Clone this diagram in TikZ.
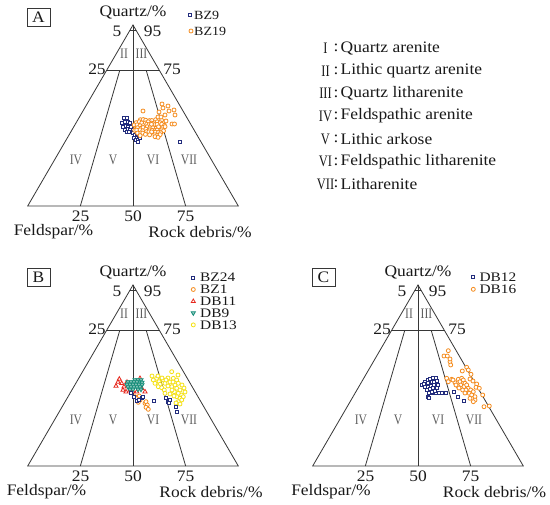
\documentclass[tikz,border=0pt]{standalone}
\usepackage{fontspec}
\setmainfont{Liberation Serif}
\definecolor{navyc}{RGB}{35,45,125}
\definecolor{orangec}{RGB}{245,140,30}
\definecolor{redc}{RGB}{230,40,30}
\definecolor{tealc}{RGB}{20,140,120}
\definecolor{yellowc}{RGB}{245,225,20}
\definecolor{framec}{RGB}{55,55,55}
\definecolor{regc}{RGB}{95,95,95}
\definecolor{txtc}{RGB}{25,25,25}
\newcommand\ternframe[4]{%
  \coordinate (#1Q) at (133,25);
  \coordinate (#1F) at (27.7,206);
  \coordinate (#1R) at (238.3,206);
  \coordinate (#1L75) at (106.7,70.25);
  \coordinate (#1R75) at (159.3,70.25);
  \coordinate (#1L95) at (129.8,30.5);
  \coordinate (#1R95) at (136.2,30.5);
  \coordinate (#1B25) at (80.35,206);
  \coordinate (#1B50) at (133,206);
  \coordinate (#1B75) at (185.65,206);
  \coordinate (#1M25) at (119.8,70.25);
  \coordinate (#1M75) at (146.2,70.25);
  \draw[frame] (#1Q) -- (#1F) -- (#1R) -- cycle;
  \draw[frame] (#1L75) -- (#1R75);
  \draw[frame] (#1L95) -- (#1R95);
  \draw[frame] (#1Q) -- (#1B50);
  \draw[frame] (#1B25) -- (#1M25);
  \draw[frame] (#1B75) -- (#1M75);
  \node[lab] (#1qt) at (133,12.5) {Quartz/\%};
  \node[lab] (#1n5) at (117,31) {5};
  \node[lab] (#1n95) at (152.5,31) {95};
  \node[lab] (#1n25t) at (97,69) {25};
  \node[lab] (#1n75t) at (172,69) {75};
  \node[lab] (#1n25) at (80.5,216) {25};
  \node[lab] (#1n50) at (133,216) {50};
  \node[lab] (#1n75) at (185.5,216) {75};
  \node[lab] (#1fs) at (#3,232) {Feldspar/\%};
  \node[lab] (#1rd) at (#4,232) {Rock debris/\%};
  \draw[boxline] (27,8) rectangle (50,26);
  \node[lab] (#1let) at (38.5,17.5) {#2};
  \node[reg] (#1r2) at (124,54) {II};
  \node[reg] (#1r3) at (141.5,54) {III};
  \node[reg] (#1r4) at (76,160) {IV};
  \node[reg] (#1r5) at (113,160) {V};
  \node[reg] (#1r6) at (153,160) {VI};
  \node[reg] (#1r7) at (189,160) {VII};
}
\newcommand\msq[2]{\draw[mk,draw=#1] (#2) ++(-1.5,-1.5) rectangle ++(3,3);}
\newcommand\mci[2]{\draw[mk,draw=#1] (#2) circle[radius=2];}
\newcommand\mup[2]{\draw[mk,draw=#1] (#2) ++(0,-2.3) -- ++(2.1,3.6) -- ++(-4.2,0) -- cycle;}
\newcommand\mdn[2]{\draw[mk,draw=#1,fill=#1!45] (#2) ++(0,2.3) -- ++(2.1,-3.6) -- ++(-4.2,0) -- cycle;}
\begin{document}
\begin{tikzpicture}[x=1pt,y=-1pt,
  frame/.style={draw=framec,line width=0.8pt},
  boxline/.style={draw=framec,line width=0.7pt},
  lab/.style={font=\fontsize{16}{18}\selectfont,xscale=1.09,inner sep=0pt,text=txtc},
  leg/.style={font=\fontsize{13}{14}\selectfont,xscale=1.18,inner sep=0pt,anchor=west,text=txtc},
  legA/.style={font=\fontsize{12.5}{14}\selectfont,xscale=1.12,inner sep=0pt,anchor=west,text=txtc},
  reg/.style={font=\fontsize{14.5}{16}\selectfont,xscale=0.8,inner sep=0pt,text=regc},
  rn/.style={font=\fontsize{16}{18}\selectfont,xscale=0.78,inner sep=0pt,text=txtc},
  mk/.style={line width=0.8pt,fill=white}]
\useasboundingbox (0,0) rectangle (550,505);
\fill[white] (0,0) rectangle (550,505);

% ---------------- Panel A ----------------
\begin{scope}
\ternframe{a}{A}{53.5}{200}
% BZ9
\foreach \x/\y in {124.3/118.3,126.7/118.3,122.3/123.3,125/121.7,127.7/121.7,130/123.3,123.3/126.7,125.7/125.7,128.3/126.7,131/126.7,125/130,127.7/129,130/130,126.7/132.3,129/132.3,131.7/131.7,133.3/133.3,135/135,136.7/134.3,134.3/137.7,136.7/137.7,139/136.7,135.7/140,138.3/140,140/138.3,137.7/142.3,148.3/132.7,180/141.7}
  {\msq{navyc}{\x,\y}}
% BZ19
\pgfmathsetseed{11}
\foreach \x/\y in {140/120,143/120,146/120,149/120,152/120,155/120,158/120,161/120,
 136/122.5,139/122.5,142/122.5,145/122.5,148/122.5,151/122.5,154/122.5,157/122.5,160/122.5,163/122.5,
 134/125,137/125,140/125,143/125,146/125,149/125,152/125,155/125,158/125,161/125,164/125,
 135/127.5,138/127.5,141/127.5,144/127.5,147/127.5,150/127.5,153/127.5,156/127.5,159/127.5,162/127.5,165/127.5,
 134/130,137/130,140/130,143/130,146/130,149/130,152/130,155/130,158/130,161/130,164/130,
 137/132.5,140/132.5,143/132.5,146/132.5,149/132.5,152/132.5,155/132.5,158/132.5,161/132.5,
 141/135,145/135,150/135,154/135,157/135,160/135,155/137.5,158/137}
  {\mci{orangec}{{\x+0.9*rand},{\y+0.9*rand}}}
\foreach \x/\y in {143/111,162/104,168/106,159/112,169/111,174/110,175/115,165/115,158/117,161/117,163/108,172/124,174.5/124,166/121}
  {\mci{orangec}{\x,\y}}
% legend
\msq{navyc}{190,15}
\node[legA] (lgA1) at (194,15) {BZ9};
\mci{orangec}{191,31}
\node[legA] (lgA2) at (194,31) {BZ19};
\end{scope}

% ---------------- Legend of classes ----------------
\foreach \r/\t/\yy [count=\i] in {I/Quartz arenite/48.3, II/Lithic quartz arenite/71, III/Quartz litharenite/93.5, IV/Feldspathic arenite/116, V/Lithic arkose/139, VI/Feldspathic litharenite/161.7, VII/Litharenite/184}
{
  \node[rn] (cls\i) at (325.5,\yy) {\r};
  \node[lab] (col\i) at (336,\yy) {:};
  \node[lab,anchor=west] (txt\i) at (340.5,\yy) {\t};
}

% ---------------- Panel B ----------------
\begin{scope}[shift={(0,260)}]
\ternframe{b}{B}{46.5}{211}
% DB13 yellow
\foreach \x/\y in {153.3/120,156.7/118.3,159/121.7,155/123.3,160/124.3,163.3/120,165/123.3,158.3/126.7,161.7/127.7,164.3/130,165/133.3,173.3/118.3,176.7/120,178.3/123.3,175/125,171.7/126.7,176.7/128.3,180/130,174.3/131.7,178.3/133.3,181.7/135,176.7/136.7,180/138.3,183.3/136.7,181.7/140,178.3/141.7,171.7/111.7,168/118,170/122,172/130,168/126,185/132,184/128,152/116,158/116,162/118,166/120,170/134,174/136,176/143,180/144,173/122,178/115,182/125}
  {\mci{yellowc}{\x,\y}}
% BZ1 orange
\foreach \x/\y in {135/136.7,137.3/138.3,139.3/136,138.3/142.3,145/143.3,146/141.7,147.3/145,146/147.3,148.3/149.3,140/140}
  {\mci{orangec}{\x,\y}}
% DB11 red
\foreach \x/\y in {119.3/119,121.7/123.3,124/126.7,126/131.7,130/130,140/118.3,141.7/128.3,145/131.7,136.7/131.7,116/126,123/130,127/122,133/131.5,118/122}
  {\mup{redc}{\x,\y}}
% DB9 teal
\foreach \x/\y in {135/120,138/120,141/120,128/122,131/122,134/122,137/122,140/122,142/122.5,127/124.5,130/124.5,133/124.5,136/124.5,139/124.5,142/125,128/127,131/127,134/127,137/127,140/127,130/129.5,133/129.5,138/129.5,141/129.5}
  {\mdn{tealc}{\x,\y}}
% BZ24 navy
\foreach \x/\y in {130.7/133.3,136.7/141,141.7/137.7,154/141,166/137.7,168.3/141.7,170/140,169.3/143.3,176/146.7,177.3/151.7,134/136.7,139.3/140,143.3/137.3}
  {\msq{navyc}{\x,\y}}
% legend
\msq{navyc}{193.3,17.7}
\node[leg] (lgB1) at (200,17.7) {BZ24};
\mci{orangec}{193.3,29.5}
\node[leg] (lgB2) at (200,29.5) {BZ1};
\mup{redc}{193.3,41.3}
\node[leg] (lgB3) at (200,41.3) {DB11};
\mdn{tealc}{193.3,53.1}
\node[leg] (lgB4) at (200,53.1) {DB9};
\mci{yellowc}{193.3,64.9}
\node[leg] (lgB5) at (200,64.9) {DB13};
\end{scope}

% ---------------- Panel C ----------------
\begin{scope}[shift={(285,260)}]
\ternframe{c}{C}{46}{209.5}
% DB12 navy
\foreach \x/\y in {137.3/125,140/121.7,142.7/120,145/119,148.3/118.3,150.7/117.7,143.3/123.3,146.7/122.3,149.3/121.7,151.7/121,140/126.7,143.3/126.7,146/125.7,149.3/125,141.7/130,145/129,148.3/128.3,151.7/127.7,153.3/125,144/133.3,147.3/133.3,150.7/133.3,154/133.3,157.3/133.3,160.7/133.3,143.3/136.7,144/138.3,146.7/131.7,150/131,139.3/124.3,169/131.7,173.3/136.7,179/140.7}
  {\msq{navyc}{\x,\y}}
% DB16 orange
\foreach \x/\y in {159/96,162.3/96,163.3/90.7,165/101.7,165.7/105,177.3/111,181.7/107.3,183.3/110,186/114.3,161.7/118.3,163.3/121.7,166.7/119.3,170/122.7,173.3/119.3,175/121.7,176.7/118.3,178.3/120,180/123.3,175.7/125,179/126.7,181.7/125,183.3/128.3,177.7/130,181/130,185.7/130,188.3/131.7,184.3/133.3,186.7/135,190/136.7,185/138.3,190/140,188.3/141.7,191.7/124,191/127.3,194.3/128.3,197.7/135,199/146.7,204.3/146,173.3/126.7,165/99,168/120,171/125,185/119,188/121,174/128,180/133}
  {\mci{orangec}{\x,\y}}
% legend
\msq{navyc}{188.3,17.3}
\node[leg] (lgC1) at (194.3,17.3) {DB12};
\mci{orangec}{188.3,29.3}
\node[leg] (lgC2) at (194.3,29.3) {DB16};
\end{scope}
\end{tikzpicture}
\end{document}
